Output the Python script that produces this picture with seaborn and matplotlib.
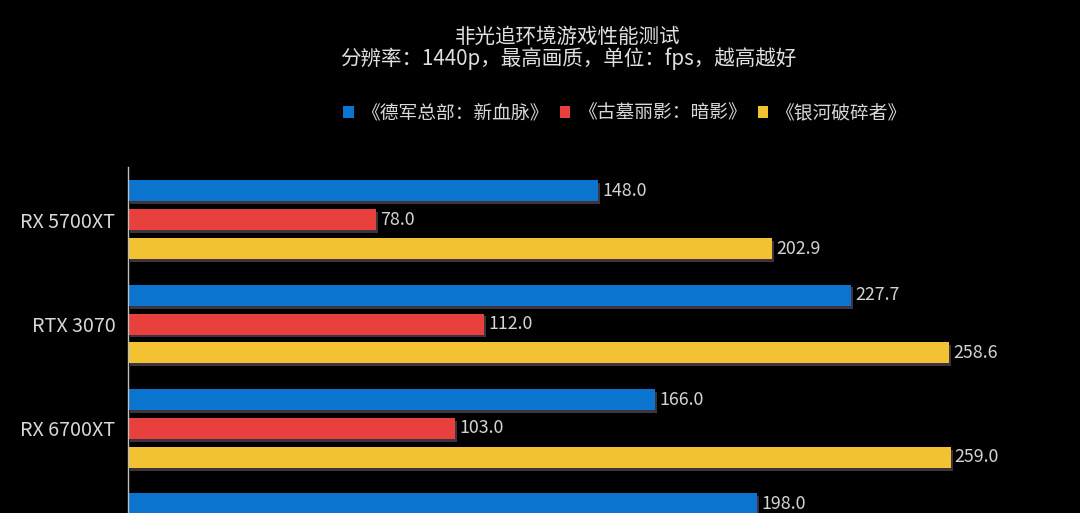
import matplotlib
matplotlib.use("Agg")
import matplotlib.pyplot as plt
import matplotlib.patheffects as pe
from matplotlib.patches import Patch
import seaborn as sns
import pandas as pd
import numpy as np

# ---- data ----
gpus = ["RX 5700XT", "RTX 3070", "RX 6700XT", ""]
games = ["《德军总部：新血脉》", "《古墓丽影：暗影》", "《银河破碎者》"]
wolfenstein = [148.0, 227.7, 166.0, 198.0]
tombraider = [78.0, 112.0, 103.0, np.nan]
galaxy = [202.9, 258.6, 259.0, np.nan]
colors = ["#0a74cf", "#e8413d", "#f2c232"]

title = "非光追环境游戏性能测试"
subtitle = "分辨率：1440p，最高画质，单位：fps，越高越好"

rows = []
for g, vals in zip(games, [wolfenstein, tombraider, galaxy]):
    for gpu, v in zip(gpus, vals):
        rows.append({"gpu": gpu, "game": g, "fps": v})
df = pd.DataFrame(rows)

sns.set_theme(style="dark")
plt.rcParams["font.family"] = ["Noto Sans CJK SC", "DejaVu Sans"]

W, H = 1080, 513
fig = plt.figure(figsize=(W / 100, H / 100), dpi=100, facecolor="black")
ax = fig.add_axes([128 / W, 0, 1 - 128 / W, (H - 167) / H])
ax.set_facecolor("black")

sns.barplot(data=df, y="gpu", x="fps", hue="game", hue_order=games,
            order=gpus, palette=colors, orient="h", width=0.83, gap=0.27,
            dodge=True, ax=ax, legend=False, errorbar=None, saturation=1)

shadow = [pe.withSimplePatchShadow(offset=(1.5, -2), shadow_rgbFace="#5a4a5a", alpha=0.7)]
for p in ax.patches:
    p.set_path_effects(shadow)
    p.set_edgecolor("none")

for cont in ax.containers:
    ax.bar_label(cont, fmt="%.1f", padding=3, color="#d4d4d4", fontsize=12.8)

ax.set_xlim(0, (W - 128) / 3.176)
ax.set_ylim(2.81, -0.505)
ax.set_xlabel("")
ax.set_ylabel("")
ax.set_xticks([])
ax.grid(False)
for s in ["top", "right", "bottom"]:
    ax.spines[s].set_visible(False)
ax.spines["left"].set_color("#bfbfbf")
ax.spines["left"].set_linewidth(1)
ax.tick_params(axis="y", length=0, pad=9, labelcolor="#d8d8d8", labelsize=14.2)

fig.text(568 / W, 1 - 37 / H, title, ha="center", va="center", color="#e0e0e0", fontsize=14.8)
fig.text(568 / W, 1 - 59 / H, subtitle, ha="center", va="center", color="#e0e0e0", fontsize=14.8)

handles = [Patch(facecolor=c, edgecolor="none") for c in colors]
leg = fig.legend(handles, games, loc="center", bbox_to_anchor=(625 / W, 1 - 113 / H),
                 ncol=3, frameon=False, fontsize=13.5, handlelength=0.55, handleheight=0.55,
                 handletextpad=0.4, columnspacing=0.6)
for t in leg.get_texts():
    t.set_color("#d8d8d8")

fig.savefig("out.png", dpi=100, facecolor="black")
